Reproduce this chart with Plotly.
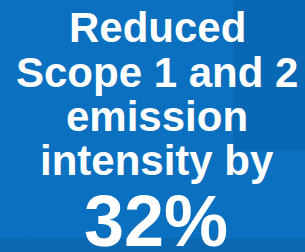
import plotly.graph_objects as go

lines = ["Reduced", "Scope 1 and 2", "emission", "intensity by"]
headline = "32%"
line_centers = [27.5, 72.0, 116.0, 160.5]
headline_center = 221.0

fig = go.Figure()
fig.add_trace(go.Scatter(x=[0, 305], y=[0, 252], mode="markers",
                         marker=dict(opacity=0), hoverinfo="skip", showlegend=False))

# subtle background shapes
fig.add_shape(type="rect", x0=233, x1=305, y0=0, y1=150, fillcolor="#0868b4",
              line_width=0, layer="below")
fig.add_shape(type="path", path="M 0 0 L 30 0 L 80 200 L 0 252 Z", fillcolor="#0c74c3",
              line_width=0, layer="below", opacity=0.4)
fig.add_shape(type="rect", x0=0, x1=305, y0=238, y1=252, fillcolor="#0a69b2",
              line_width=0, layer="below")

for txt, yc in zip(lines, line_centers):
    fig.add_annotation(x=157, y=yc, xref="x", yref="y", text="<b>%s</b>" % txt,
                       showarrow=False, xanchor="center", yanchor="middle",
                       font=dict(family="Liberation Sans, Arial, sans-serif", size=42, color="white"))
fig.add_annotation(x=155.5, y=headline_center, xref="x", yref="y", text="<b>%s</b>" % headline,
                   showarrow=False, xanchor="center", yanchor="middle",
                   font=dict(family="Liberation Sans, Arial, sans-serif", size=72, color="white"))

fig.update_layout(width=305, height=252, margin=dict(l=0, r=0, t=0, b=0),
                  paper_bgcolor="#0a70bf", plot_bgcolor="#0a70bf",
                  xaxis=dict(range=[0, 305], visible=False, fixedrange=True),
                  yaxis=dict(range=[252, 0], visible=False, fixedrange=True),
                  showlegend=False)
fig.write_html("out.html", config={"displayModeBar": False},
               post_script="document.body.style.margin='0';document.body.style.overflow='hidden';document.body.style.background='#0a70bf';")
